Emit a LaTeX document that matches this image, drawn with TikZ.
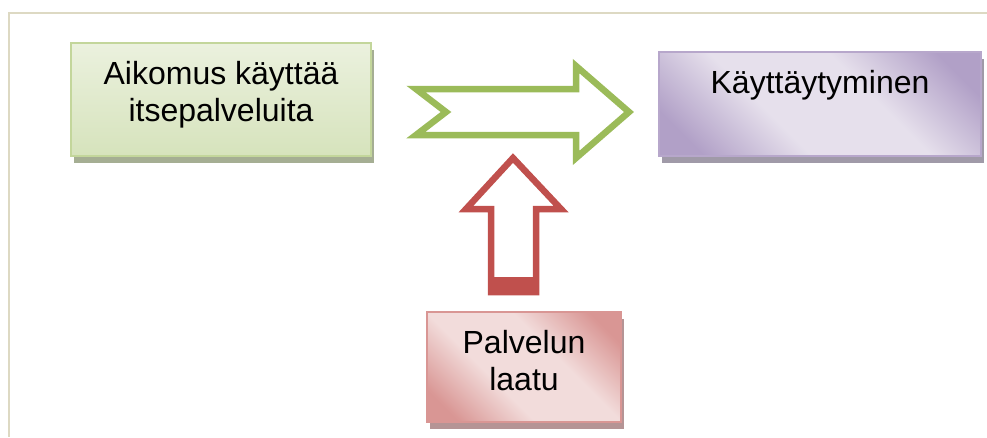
\documentclass[tikz,border=0pt]{standalone}
\usepackage{fontspec}
\setmainfont{Liberation Sans}
\usetikzlibrary{shadows}

\definecolor{frameline}{HTML}{DDD9C3}
\definecolor{greenline}{HTML}{C3D69B}
\definecolor{greenlight}{HTML}{EBF1DE}
\definecolor{greendark}{HTML}{D6E3BC}
\definecolor{greenshadow}{HTML}{A5AE93}
\definecolor{purpleline}{HTML}{B7A7CB}
\definecolor{purplelight}{HTML}{E6E0EC}
\definecolor{purpledark}{HTML}{B1A0C7}
\definecolor{purpleshadow}{HTML}{A09AA8}
\definecolor{redline}{HTML}{D99694}
\definecolor{redlight}{HTML}{F2DCDB}
\definecolor{reddark}{HTML}{D99694}
\definecolor{redshadow}{HTML}{B59495}
\definecolor{arrowgreen}{HTML}{9BBB59}
\definecolor{arrowred}{HTML}{C0504D}

% diagonal band shadings: dark corners, light stripe through the middle
\pgfdeclarehorizontalshading{purpleband}{100bp}{color(0bp)=(purpledark); color(22bp)=(purpledark);
  color(40bp)=(purplelight); color(60bp)=(purplelight); color(78bp)=(purpledark); color(100bp)=(purpledark)}
\pgfdeclarehorizontalshading{redband}{100bp}{color(0bp)=(reddark); color(22bp)=(reddark);
  color(40bp)=(redlight); color(60bp)=(redlight); color(78bp)=(reddark); color(100bp)=(reddark)}

\begin{document}
\begin{tikzpicture}[x=1pt,y=-1pt,
  box/.style={rectangle, inner sep=0pt, line width=1.3pt},
  boxshadow/.style={general shadow={fill=#1, shadow xshift=3pt, shadow yshift=-7pt}},
  boxtext/.style={font=\fontsize{32}{37}\selectfont, inner sep=0pt, align=center, anchor=base},
  blockarrow/.style={line width=6.5pt, miter limit=10}]

\useasboundingbox (0,0) rectangle (987,437);

% page frame
\draw[frameline, line width=2pt] (987,13) -- (9,13) -- (9,437);

% boxes
\node[box, boxshadow=greenshadow, draw=greenline, top color=greenlight, bottom color=greendark,
      minimum width=300pt, minimum height=113pt] (intent) at (221,99.5) {};
\node[box, boxshadow=purpleshadow, draw=purpleline, shading=purpleband, shading angle=45,
      minimum width=322pt, minimum height=104pt] (behaviour) at (820,104) {};
\node[box, boxshadow=redshadow, draw=redline, shading=redband, shading angle=45,
      minimum width=194pt, minimum height=110pt] (quality) at (524,367) {};

% texts (base anchor sits on the last line)
\node[boxtext] (intenttext) at (221,121) {Aikomus käyttää\\itsepalveluita};
\node[boxtext] (behaviourtext) at (820,93) {Käyttäytyminen};
\node[boxtext] (qualitytext) at (524,390) {Palvelun\\laatu};

% horizontal block arrow between the upper boxes
\draw[blockarrow, draw=arrowgreen]
  (416,89) -- (576,89) -- (576,66) -- (629,112) -- (576,158) -- (576,135) -- (416,135) -- (446,112) -- cycle;

% vertical block arrow from the lower box
\fill[arrowred] (491,277) rectangle (536,292);
\draw[blockarrow, draw=arrowred]
  (513,158) -- (561,209) -- (536,209) -- (536,292) -- (491,292) -- (491,209) -- (466,209) -- cycle;
\end{tikzpicture}
\end{document}
